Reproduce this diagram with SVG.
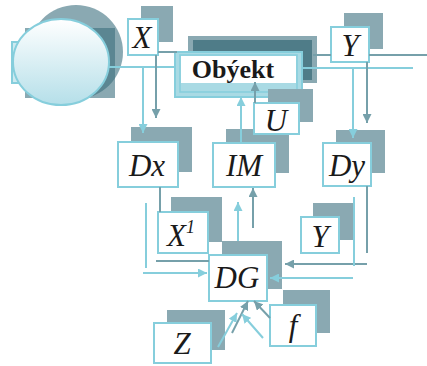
<svg xmlns="http://www.w3.org/2000/svg" width="427" height="366" viewBox="0 0 427 366">
<defs>
<linearGradient id="eg" x1="0" y1="0" x2="0" y2="1">
<stop offset="0" stop-color="#ffffff"/>
<stop offset="1" stop-color="#b5dfe9"/>
</linearGradient>
<clipPath id="cc"><circle cx="76" cy="52" r="47"/></clipPath>
<marker id="ac" viewBox="0 0 10 10" refX="10" refY="5" markerWidth="9" markerHeight="9" markerUnits="userSpaceOnUse" orient="auto"><path d="M0,0 L10,5 L0,10 z" fill="#86cedc"/></marker>
<marker id="ad" viewBox="0 0 10 10" refX="10" refY="5" markerWidth="9" markerHeight="9" markerUnits="userSpaceOnUse" orient="auto"><path d="M0,0 L10,5 L0,10 z" fill="#76a0aa"/></marker>
</defs>
<style>
.sh{fill:#8aa9b2}
.bx{fill:#ffffff;stroke:#86cedc;stroke-width:2}
.t{font-family:"Liberation Serif",serif;font-style:italic;font-size:31px;fill:#1a1a1a;text-anchor:middle}
.c{stroke:#86cedc;stroke-width:2;fill:none}
.d{stroke:#76a0aa;stroke-width:2;fill:none}
</style>
<rect width="427" height="366" fill="#ffffff"/>
<g id="system">
<circle cx="76" cy="52" r="47" fill="#8aa9b2"/>
<rect x="25" y="28" width="90" height="70" fill="#8aa9b2"/>
<rect x="25" y="28" width="90" height="70" fill="#5b8692" clip-path="url(#cc)"/>
<rect x="12" y="42" width="40" height="41" fill="#cdeaf0" stroke="#86cedc" stroke-width="2"/>
<ellipse cx="61" cy="62" rx="48" ry="43" fill="url(#eg)" stroke="#86cedc" stroke-width="2"/>
</g>
<g id="X">
<rect class="sh" x="141" y="6" width="32" height="36"/>
<rect class="bx" x="128" y="19" width="30" height="36"/>
<text class="t" x="142" y="48">X</text>
</g>
<g id="Obyekt">
<rect x="188" y="36" width="129" height="47" fill="#8aa9b2"/>
<rect x="193" y="40" width="119" height="40" fill="#4f7c88"/>
<rect x="175" y="52" width="127" height="45" fill="#a9dae4" stroke="#86cedc" stroke-width="2"/>
<rect x="180" y="55" width="117" height="37" fill="none" stroke="#86cedc" stroke-width="1.5"/>
<rect x="181" y="56" width="115" height="27" fill="#ffffff"/>
<text x="233" y="78" font-family="Liberation Serif,serif" font-weight="bold" font-size="26" fill="#1a1a1a" text-anchor="middle">Obýekt</text>
</g>
<g id="IM">
<rect class="sh" x="226" y="129" width="63" height="44"/>
<rect class="bx" x="213" y="143" width="62" height="44"/>
<text class="t" x="244" y="176">IM</text>
</g>
<g id="U">
<rect class="sh" x="268" y="89" width="45" height="33"/>
<rect class="bx" x="254" y="103" width="45" height="31"/>
<text class="t" x="276" y="131">U</text>
</g>
<g id="Y">
<rect class="sh" x="344" y="13" width="39" height="36"/>
<rect class="bx" x="331" y="27" width="38" height="35"/>
<text class="t" x="350" y="56">Y</text>
</g>
<g id="Dx">
<rect class="sh" x="131" y="127" width="61" height="45"/>
<rect class="bx" x="118" y="142" width="60" height="45"/>
<text class="t" x="147" y="176">Dx</text>
</g>
<g id="Dy">
<rect class="sh" x="336" y="130" width="49" height="43"/>
<rect class="bx" x="323" y="143" width="48" height="43"/>
<text class="t" x="347" y="176">Dy</text>
</g>
<g id="X1">
<rect class="sh" x="171" y="197" width="51" height="45"/>
<rect class="bx" x="158" y="212" width="50" height="41"/>
<text class="t" x="181" y="246">X<tspan font-size="18" dy="-13">1</tspan></text>
</g>
<g id="Y2">
<rect class="sh" x="313" y="203" width="40" height="37"/>
<rect class="bx" x="301" y="217" width="38" height="36"/>
<text class="t" x="320" y="247">Y</text>
</g>
<g id="DG">
<rect class="sh" x="222" y="241" width="60" height="48"/>
<rect class="bx" x="209" y="255" width="58" height="46"/>
<text class="t" x="237" y="288" font-size="32">DG</text>
</g>
<g id="Z">
<rect class="sh" x="167" y="310" width="58" height="40"/>
<rect class="bx" x="154" y="323" width="57" height="40"/>
<text class="t" x="182" y="354">Z</text>
</g>
<g id="f">
<rect class="sh" x="283" y="290" width="47" height="43"/>
<rect class="bx" x="270" y="305" width="46" height="41"/>
<text class="t" x="293" y="336">f</text>
</g>
<g id="connectors">
<line class="c" x1="109" y1="67" x2="175" y2="67"/>
<line class="d" x1="158" y1="52" x2="177" y2="52"/>
<line class="c" x1="143" y1="67" x2="143" y2="133" marker-end="url(#ac)"/>
<line class="d" x1="156" y1="55" x2="156" y2="118" marker-end="url(#ad)"/>
<line class="c" x1="241" y1="143" x2="241" y2="97" marker-end="url(#ac)"/>
<line class="d" x1="255" y1="103" x2="255" y2="82" marker-end="url(#ad)"/>
<line class="d" x1="313" y1="55" x2="331" y2="55"/>
<line class="d" x1="369" y1="55" x2="427" y2="55"/>
<line class="c" x1="302" y1="68" x2="413" y2="68"/>
<line class="c" x1="353" y1="68" x2="353" y2="138" marker-end="url(#ac)"/>
<line class="d" x1="367" y1="62" x2="367" y2="123" marker-end="url(#ad)"/>
<line class="d" x1="160" y1="187" x2="160" y2="212"/>
<line class="c" x1="146" y1="203" x2="146" y2="268"/>
<line class="c" x1="143" y1="273" x2="207" y2="273" marker-end="url(#ac)"/>
<line class="d" x1="156" y1="261" x2="209" y2="261"/>
<line class="c" x1="238" y1="241" x2="238" y2="202" marker-end="url(#ac)"/>
<line class="d" x1="253" y1="228" x2="253" y2="188" marker-end="url(#ad)"/>
<line class="d" x1="367" y1="186" x2="367" y2="253"/>
<line class="d" x1="367" y1="264" x2="285" y2="264" marker-end="url(#ad)"/>
<line class="c" x1="354" y1="197" x2="354" y2="266"/>
<line class="c" x1="353" y1="278" x2="270" y2="278" marker-end="url(#ac)"/>
<line class="c" x1="218" y1="347" x2="237" y2="313" marker-end="url(#ac)"/>
<line class="d" x1="232" y1="333" x2="248" y2="301" marker-end="url(#ad)"/>
<line class="c" x1="263" y1="338" x2="242" y2="314" marker-end="url(#ac)"/>
<line class="d" x1="270" y1="318" x2="254" y2="301" marker-end="url(#ad)"/>
</g>
</svg>
